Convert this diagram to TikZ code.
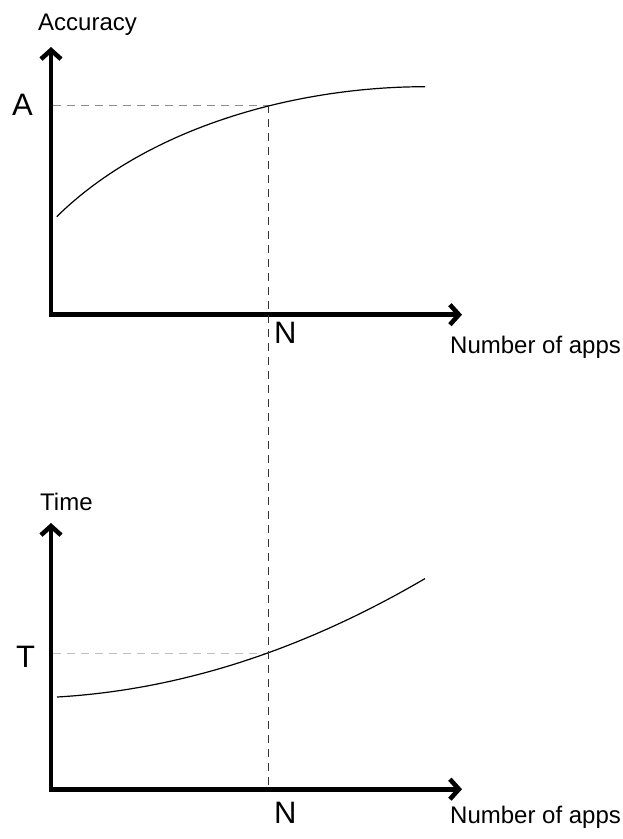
\documentclass[tikz,border=0pt]{standalone}
\usepackage{fontspec}
\setmainfont{Liberation Sans}
\usetikzlibrary{arrows.meta}

\begin{document}
\begin{tikzpicture}[x=1pt,y=-1pt,
  axis/.style={line width=4.6pt, line join=miter,
    {Straight Barb[length=9pt,width=20pt]}-{Straight Barb[length=9pt,width=20pt]}},
  curve/.style={line width=1.2pt},
  guideA/.style={dash pattern=on 8pt off 6pt, line width=1pt, black!45},
  guideT/.style={dash pattern=on 8pt off 6pt, line width=1pt, black!25},
  guideN/.style={dash pattern=on 8pt off 6pt, line width=1pt, black!80},
  axtitle/.style={anchor=base west, inner sep=0pt, font=\fontsize{24}{28}\selectfont},
  ticklbl/.style={anchor=base west, inner sep=0pt, font=\fontsize{31}{35}\selectfont}]
\useasboundingbox (0,0) rectangle (622,839);

% ---------- upper plot: accuracy ----------
\coordinate (atop)    at (51,47);
\coordinate (acorner) at (51,314.7);
\coordinate (aright)  at (462,314.7);
\draw[axis] (atop) -- (acorner) -- (aright);

\coordinate (aA)   at (53,105);
\coordinate (aN)   at (268,105);
\draw[guideA] (aA) -- (aN);

\coordinate (c0) at (56.7,216.7);
\coordinate (c3) at (425,86.7);
\draw[curve] (c0) .. controls (150,125) and (300,86.7) .. (c3);

\node[axtitle] (acc)  at (38,30)  {Accuracy};
\node[ticklbl] (lA)   at (12,115) {A};
\node[ticklbl] (lN1)  at (274,343) {N};
\node[axtitle] (nx1)  at (450,353) {Number of apps};

% ---------- lower plot: time ----------
\coordinate (ttop)    at (51,523);
\coordinate (tcorner) at (51,789.2);
\coordinate (tright)  at (462,789.2);
\draw[axis] (ttop) -- (tcorner) -- (tright);

\coordinate (tT) at (53,653);
\coordinate (tN) at (268,653);
\coordinate (nbot) at (268,787);
\draw[guideT] (tT) -- (tN);

\draw[curve] plot[domain=57:425, samples=80, smooth]
  (\x, {697 - 0.0579*(\x-57) - 0.000714*(\x-57)*(\x-57)});

\node[axtitle] (tim)  at (40,510.5) {Time};
\node[ticklbl] (lT)   at (16,667)  {T};
\node[ticklbl] (lN2)  at (274,823) {N};
\node[axtitle] (nx2)  at (450,823) {Number of apps};

% ---------- shared N guide through both plots ----------
\draw[guideN] (aN) -- (nbot);
\end{tikzpicture}
\end{document}
